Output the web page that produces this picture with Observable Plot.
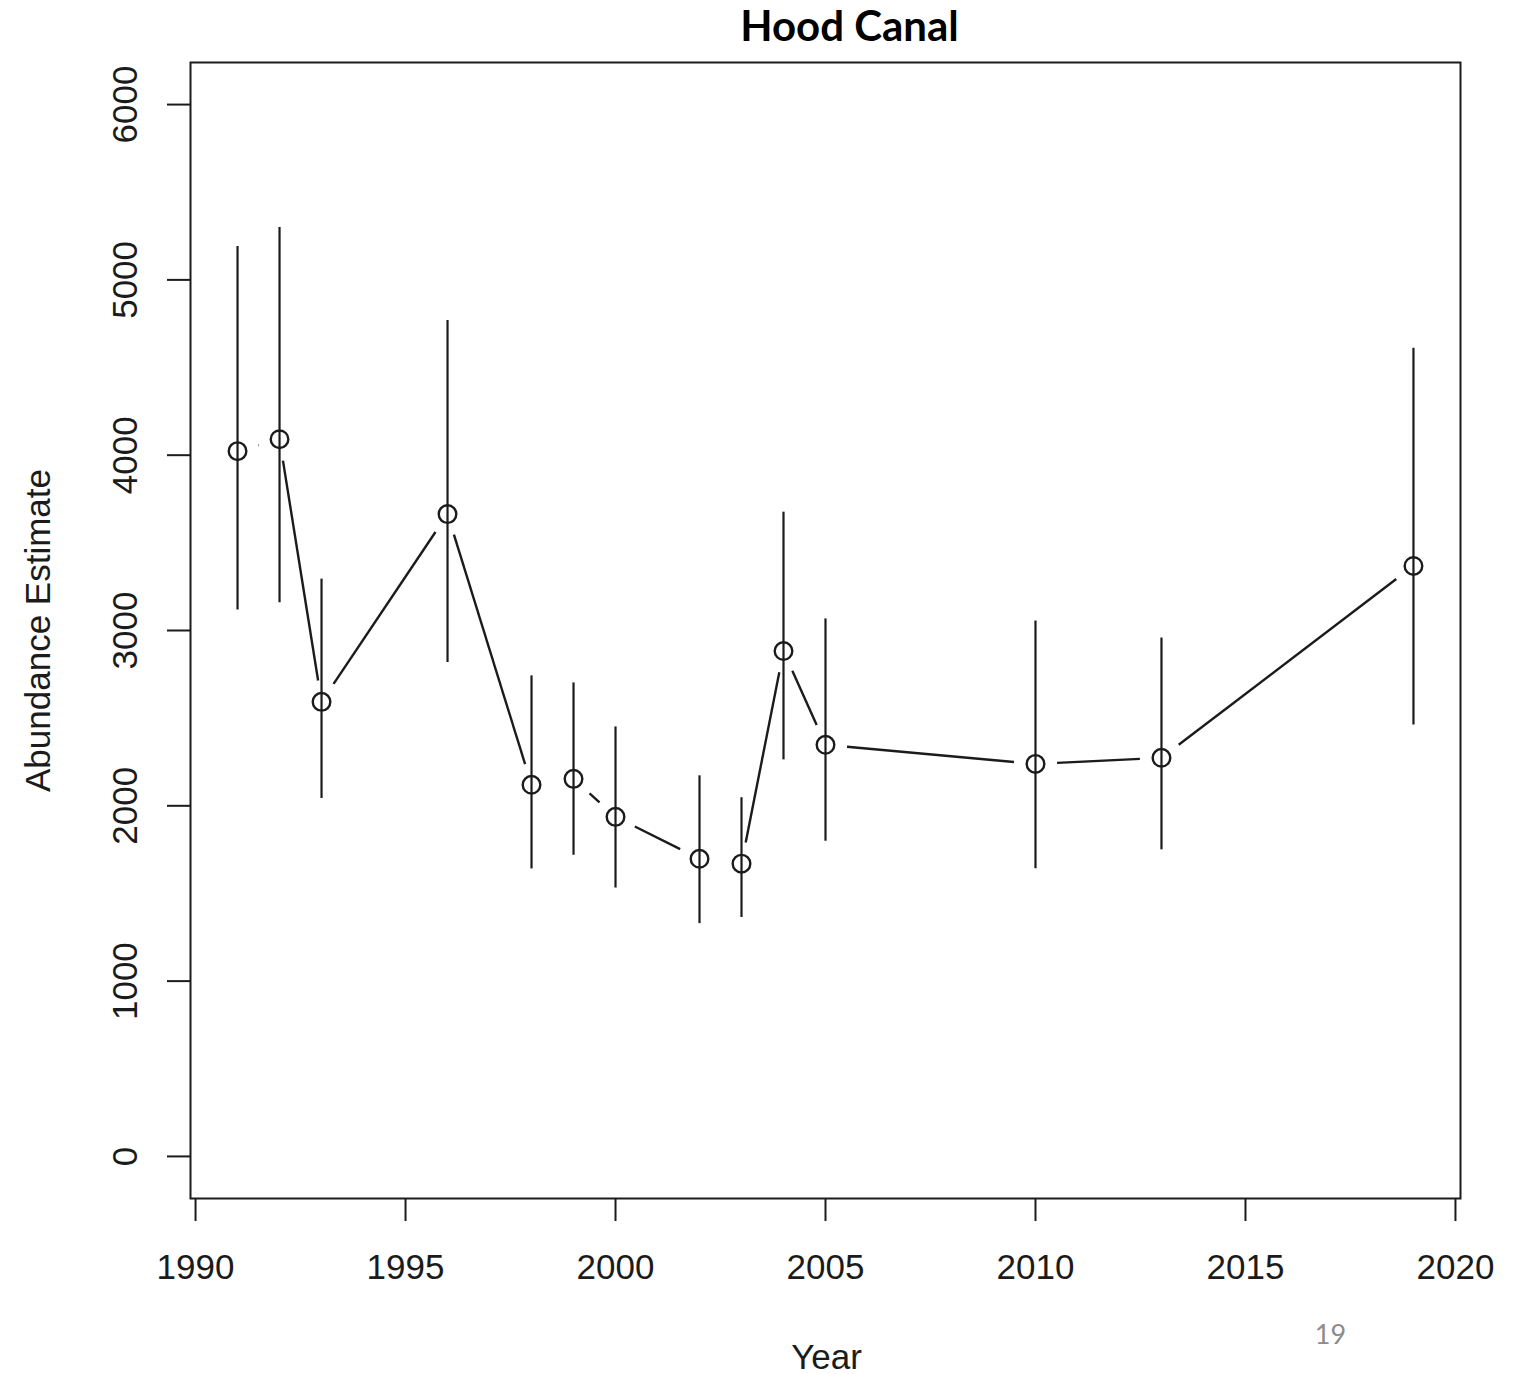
<!DOCTYPE html>
<html>
<head>
<meta charset="utf-8">
<script src="https://cdn.jsdelivr.net/npm/d3@7"></script>
<script src="https://cdn.jsdelivr.net/npm/@observablehq/plot@0.6"></script>
<style>
  html, body { margin: 0; padding: 0; background: #fff; }
  #chart svg { display: block; }
</style>
</head>
<body>
<div id="chart"></div>
<script>
// Hood Canal abundance estimates with confidence intervals
const years    = [1991, 1992, 1993, 1996, 1998, 1999, 2000, 2002, 2003, 2004, 2005, 2010, 2013, 2019];
const estimate = [4023, 4091, 2593, 3664, 2120, 2154, 1937, 1698, 1670, 2883, 2348, 2239, 2274, 3368];
const lower    = [3117, 3159, 2042, 2818, 1640, 1718, 1531, 1328, 1363, 2262, 1798, 1641, 1749, 2461];
const upper    = [5191, 5299, 3293, 4769, 2741, 2701, 2450, 2171, 2046, 3675, 3066, 3054, 2957, 4610];

const xTicks = [1990, 1995, 2000, 2005, 2010, 2015, 2020];
const yTicks = [0, 1000, 2000, 3000, 4000, 5000, 6000];

const titleText = "Hood Canal";
const xLabel = "Year";
const yLabel = "Abundance Estimate";
const pageNumber = "19";

const rows = years.map((year, i) => ({year, est: estimate[i], lo: lower[i], hi: upper[i]}));
const links = rows.slice(1).map((d, i) => ({x1: rows[i].year, y1: rows[i].est, x2: d.year, y2: d.est}));

const sans = "'Liberation Sans', Arial, sans-serif";
const ink = "#1b1b1b";

const chart = Plot.plot({
  width: 1516,
  height: 1374,
  marginLeft: 190,
  marginRight: 56,
  marginTop: 62,
  marginBottom: 176,
  style: {fontFamily: sans, background: "#fff", color: ink},
  x: {domain: [1989.88, 2020.12]},
  y: {domain: [-240, 6240]},
  marks: [
    Plot.frame({stroke: ink, strokeWidth: 2}),
    Plot.axisX(xTicks, {tickSize: 23, tickPadding: 33, fontSize: 35, tickFormat: d => String(d), stroke: ink, strokeWidth: 2, label: null}),
    Plot.axisY(yTicks, {tickSize: 23, tickFormat: () => "", stroke: ink, strokeWidth: 2, label: null}),
    Plot.text(yTicks, {y: d => d, text: d => String(d), frameAnchor: "left", dx: -65, rotate: -90, textAnchor: "middle", fontSize: 35, fill: ink}),
    // error bars
    Plot.ruleX(rows, {x: "year", y1: "lo", y2: "hi", stroke: ink, strokeWidth: 2.2}),
    // connecting segments, with a gap around each point
    Plot.arrow(links, {x1: "x1", y1: "y1", x2: "x2", y2: "y2", headLength: 0, insetStart: 21.6, insetEnd: 21.6, stroke: ink, strokeWidth: 2.4, strokeLinecap: "butt"}),
    Plot.dot(rows, {x: "year", y: "est", r: 8.8, stroke: ink, strokeWidth: 2.4, fill: "none"}),
    // titles
    Plot.text([titleText], {frameAnchor: "top", dx: 24, dy: -22, lineAnchor: "bottom", fontFamily: "Lato, 'Open Sans', sans-serif", fontWeight: "bold", fontSize: 42, fill: "#000"}),
    Plot.text([xLabel], {frameAnchor: "bottom", dx: 1, dy: 170, lineAnchor: "bottom", fontSize: 35, fill: ink}),
    Plot.text([yLabel], {frameAnchor: "left", dx: -152, rotate: -90, textAnchor: "middle", fontSize: 35, fill: ink}),
    Plot.text([pageNumber], {frameAnchor: "bottom-right", dx: -130, dy: 145, lineAnchor: "bottom", textAnchor: "middle", fontFamily: "Lato, 'Open Sans', sans-serif", fontSize: 27, fill: "#8c8c8c"})
  ]
});

document.getElementById("chart").appendChild(chart);
</script>
</body>
</html>
